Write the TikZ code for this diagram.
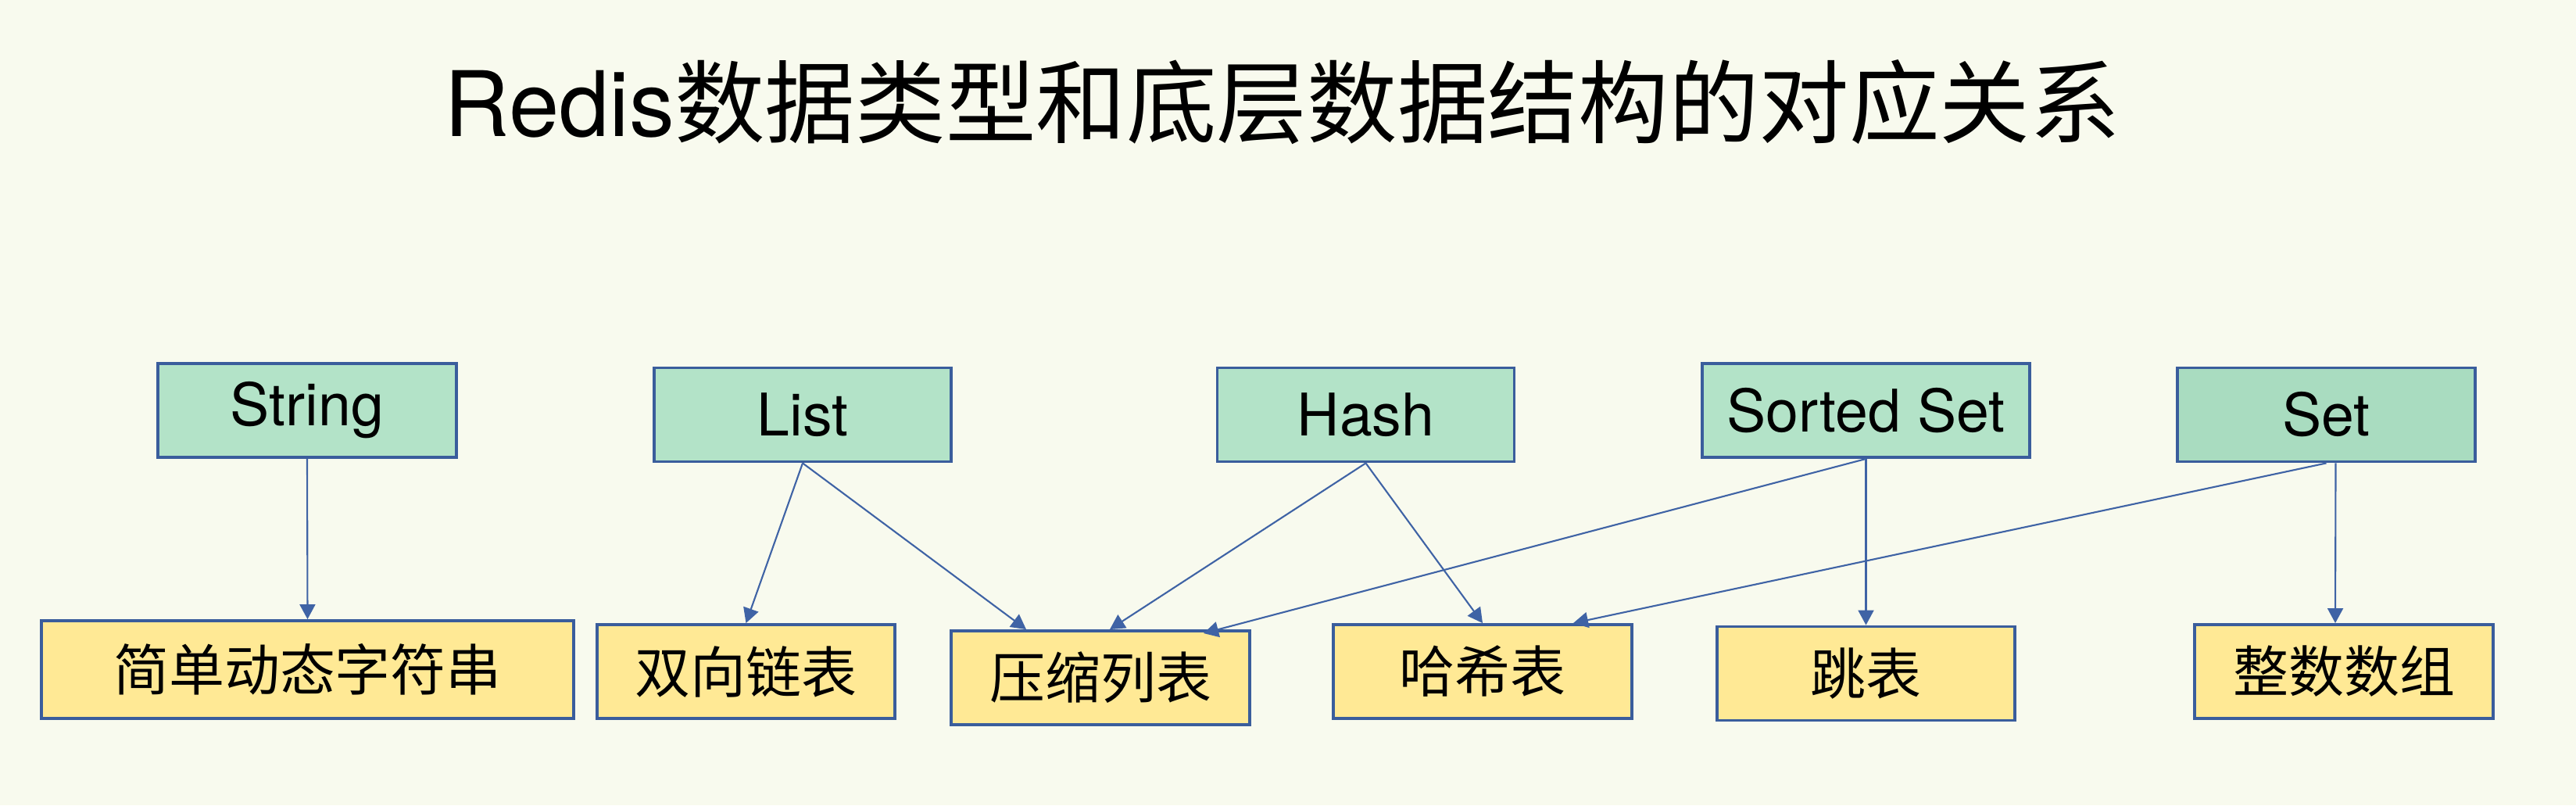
\documentclass[tikz,border=0pt]{standalone}
\usepackage{fontspec}
\setmainfont{TeX Gyre Heros}
\newfontfamily\cjk{Noto Sans CJK SC}
\usepackage{xcolor}
\usepackage{tikz}
\usetikzlibrary{arrows.meta,positioning,calc}

\definecolor{bgcream}{HTML}{F8FAEE}
\definecolor{typegreen}{HTML}{B3E3C8}
\definecolor{setgreen}{HTML}{A9DCC0}
\definecolor{structyellow}{HTML}{FFE995}
\definecolor{edgeblue}{HTML}{3A5D9C}
\definecolor{arrowblue}{HTML}{3F63A5}

\begin{document}
\begin{tikzpicture}[
    typebox/.style={draw=edgeblue, line width=1.1pt, fill=typegreen, minimum width=3.8cm, minimum height=1.2cm, inner sep=0pt, font=\fontsize{21.4}{25}\selectfont},
    structbox/.style={draw=edgeblue, line width=1.1pt, fill=structyellow, minimum width=3.8cm, minimum height=1.2cm, inner sep=0pt, font=\fontsize{20.2}{24}\selectfont\cjk},
    arr/.style={-{Triangle[length=0.19cm, width=0.2cm]}, line width=0.6pt, draw=arrowblue}
  ]
            % Background and frame
            \fill[bgcream] (0,0) rectangle (32.96,10.30);
            \useasboundingbox (0,0) rectangle (32.96,10.30);
            \node (title) at (16.41,8.99) {\fontsize{32.9}{38}\selectfont Redis\cjk 数据类型和底层数据结构的对应关系};

            % Data types
            \node[typebox, minimum width=3.82cm] (string) at (3.93,5.05) {String};
            \node[typebox] (list) at (10.27,4.995) {List};
            \node[typebox] (hash) at (17.475,4.995) {Hash};
            \node[typebox, minimum width=4.19cm] (zset) at (23.875,5.05) {Sorted Set};
            \node[typebox, fill=setgreen, minimum width=3.81cm] (set) at (29.765,4.995) {Set};

            % Data structures
            \node[structbox, minimum width=6.81cm, minimum height=1.25cm] (sds) at (3.935,1.735) {简单动态字符串};
            \node[structbox, minimum width=3.81cm] (linked) at (9.545,1.71) {双向链表};
            \node[structbox, minimum width=3.82cm] (ziplist) at (14.08,1.63) {压缩列表};
            \node[structbox, minimum width=3.82cm] (hashtable) at (18.97,1.71) {哈希表};
            \node[structbox, minimum width=3.81cm] (skiplist) at (23.875,1.685) {跳表};
            \node[structbox, minimum width=3.82cm] (intset) at (29.99,1.71) {整数数组};

            % Arrows from types to structures
            \draw[arr] (string.south) -- (sds.north);
            \draw[arr] (list.south) -- (linked.north);
            \draw[arr] (list.south) -- ([xshift=-0.95cm]ziplist.north);
            \draw[arr] (hash.south) -- ([xshift=0.12cm]ziplist.north);
            \draw[arr] (hash.south) -- (hashtable.north);
            \draw[arr] (zset.south) -- ([xshift=1.32cm, yshift=-0.05cm]ziplist.north);
            \draw[arr] (zset.south) -- (skiplist.north);
            \draw[arr] (set.south) -- ([xshift=1.16cm]hashtable.north);
            \draw[arr] ([xshift=0.12cm]set.south) -- ([xshift=-0.11cm]intset.north);

        \end{tikzpicture}
\end{document}
